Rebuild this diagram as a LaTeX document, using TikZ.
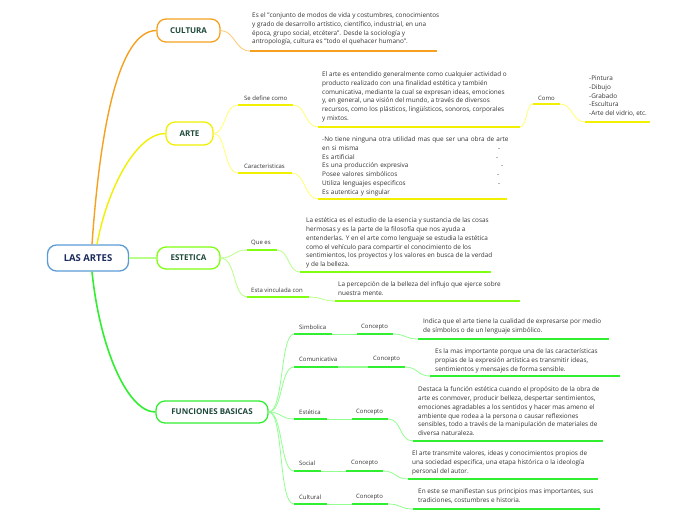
\documentclass[tikz,border=0pt]{standalone}
\usepackage{fontspec}
\setmainfont{Open Sans}
\definecolor{orC}{HTML}{F5A11F}
\definecolor{orL}{HTML}{FFC870}
\definecolor{yeC}{HTML}{F0F000}
\definecolor{yeL}{HTML}{FFFF70}
\definecolor{esC}{HTML}{80FF10}
\definecolor{esL}{HTML}{B8FF88}
\definecolor{fuC}{HTML}{30EE30}
\definecolor{fuL}{HTML}{90FF90}
\definecolor{rootC}{HTML}{5B9BD5}
\definecolor{titC}{HTML}{1E4A38}
\definecolor{rootT}{HTML}{1A2B5C}
\definecolor{txtC}{HTML}{333333}
\newcommand{\dashat}[1]{\hfill\makebox[#1][l]{-}}
\begin{document}
\begin{tikzpicture}[x=1pt,y=-1pt,
  topic/.style={draw, line width=1.3pt, rounded corners=9pt, fill=white, inner sep=0pt,
    font=\fontsize{8}{9}\selectfont\bfseries, text=titC},
  txt/.style={anchor=north west, inner sep=0pt, align=left,
    font=\fontsize{6.4}{8.8}\selectfont, text=txtC},
  lbl/.style={anchor=west, inner sep=0pt, font=\fontsize{6}{8}\selectfont, text=txtC},
  ul/.style={line width=1.6pt},
  cn/.style={line width=0.8pt}]
\useasboundingbox (0,0) rectangle (696,520);

% ---------- main nodes ----------
\node[topic, draw=rootC, text=rootT, minimum width=81pt, minimum height=26pt,
  font=\fontsize{9.5}{10}\selectfont\bfseries] (root) at (88,258) {LAS ARTES};
\node[topic, draw=orC, minimum width=63pt, minimum height=23pt] (cultura) at (188.5,30.5) {CULTURA};
\node[topic, draw=yeC, minimum width=47pt, minimum height=23pt] (arte) at (189.5,133.5) {ARTE};
\node[topic, draw=esC, minimum width=63pt, minimum height=22pt] (estetica) at (188.5,258) {ESTETICA};
\node[topic, draw=fuC, minimum width=112pt, minimum height=22pt] (func) at (212,412) {FUNCIONES BASICAS};

% ---------- root connectors ----------
\draw[orC, line width=1.4pt] ([xshift=4pt]root.north) .. controls (100,130) and (118,31) .. (cultura.west);
\draw[yeC, line width=1.4pt] ([xshift=9pt]root.north) .. controls (108,185) and (138,133) .. (arte.west);
\draw[esL, line width=2.2pt] (root.east) -- (estetica.west);
\draw[fuC, line width=1.6pt] ([xshift=4pt]root.south) .. controls (100,350) and (128,412) .. (func.west);

% ---------- CULTURA ----------
\coordinate (cu1) at (250,51); \coordinate (cu2) at (437,51);
\node[txt] (cultxt) at (252,12.5) {Es el "conjunto de modos de vida y costumbres, conocimientos\\
y grado de desarrollo artístico, científico, industrial, en una\\
época, grupo social, etcétera". Desde la sociología y\\
antropología, cultura es "todo el quehacer humano".};
\draw[orL, cn] (cultura.east) .. controls (235,31) and (235,51) .. (cu1);
\draw[orC, ul] (cu1) -- (cu2);

% ---------- ARTE ----------
\node[lbl] (sedef) at (244,98) {Se define como};
\coordinate (sd1) at (238,105); \coordinate (sd2) at (293,105);
\draw[yeL, cn] (arte.east) .. controls (226,133) and (224,105) .. (sd1);
\draw[yeC, ul] (sd1) -- (sd2);
\node[txt] (artedef) at (322,71.5) {El arte es entendido generalmente como cualquier actividad o\\
producto realizado con una finalidad estética y también\\
comunicativa, mediante la cual se expresan ideas, emociones\\
y, en general, una visión del mundo, a través de diversos\\
recursos, como los plásticos, lingüísticos, sonoros, corporales\\
y mixtos.};
\coordinate (ad1) at (318,127); \coordinate (ad2) at (520,127);
\draw[yeL, cn] (sd2) .. controls (306,105) and (305,127) .. (ad1);
\draw[yeC, ul] (ad1) -- (ad2);

\node[lbl] (como) at (538,98) {Como};
\coordinate (co1) at (533,104); \coordinate (co2) at (560,104);
\draw[yeL, cn] (ad2) .. controls (527,127) and (526,104) .. (co1);
\draw[yeC, ul] (co1) -- (co2);
\node[txt] (comotxt) at (589,75.5) {-Pintura\\-Dibujo\\-Grabado\\-Escultura\\-Arte del vidrio, etc.};
\coordinate (cl1) at (585,122); \coordinate (cl2) at (650,122);
\draw[yeL, cn] (co2) .. controls (573,104) and (572,122) .. (cl1);
\draw[yeC, ul] (cl1) -- (cl2);

\node[lbl] (carac) at (244,166) {Caracteristicas};
\coordinate (ca1) at (238,173); \coordinate (ca2) at (292,173);
\draw[yeL, cn] (arte.east) .. controls (226,133) and (224,173) .. (ca1);
\draw[yeC, ul] (ca1) -- (ca2);
\node[txt, text width=200pt] (cartxt) at (322,136.5) {-No tiene ninguna otra utilidad mas que ser una obra de arte\\
en si misma\dashat{24pt}\\
Es artificial\dashat{26pt}\\
Es una producción expresiva\dashat{21pt}\\
Posee valores simbólicos\dashat{25pt}\\
Utiliza lenguajes especificos\dashat{24pt}\\
Es autentica y singular};
\coordinate (ct1) at (318,199); \coordinate (ct2) at (507,199);
\draw[yeL, cn] (ca2) .. controls (305,173) and (305,199) .. (ct1);
\draw[yeC, ul] (ct1) -- (ct2);

% ---------- ESTETICA ----------
\node[lbl] (quees) at (251,243) {Que es};
\coordinate (qe1) at (247,250); \coordinate (qe2) at (277,250);
\draw[esL, cn] (estetica.east) .. controls (234,258) and (233,250) .. (qe1);
\draw[esC, ul] (qe1) -- (qe2);
\node[txt] (quetxt) at (306,217.5) {La estética es el estudio de la esencia y sustancia de las cosas\\
hermosas y es la parte de la filosofía que nos ayuda a\\
entenderlas. Y en el arte como lenguaje se estudia la estética\\
como el vehículo para compartir el conocimiento de los\\
sentimientos, los proyectos y los valores en busca de la verdad\\
y de la belleza.};
\coordinate (qt1) at (300,272); \coordinate (qt2) at (491,272);
\draw[esL, cn] (qe2) .. controls (289,250) and (288,272) .. (qt1);
\draw[esC, ul] (qt1) -- (qt2);

\node[lbl] (vinc) at (251,290) {Esta vinculada con};
\coordinate (vi1) at (247,297); \coordinate (vi2) at (309,297);
\draw[esL, cn] (estetica.east) .. controls (236,258) and (233,297) .. (vi1);
\draw[esC, ul] (vi1) -- (vi2);
\node[txt] (vintxt) at (338,281.5) {La percepción de la belleza del influjo que ejerce sobre\\
nuestra mente.};
\coordinate (vt1) at (335,301); \coordinate (vt2) at (520,301);
\draw[esL, cn] (vi2) .. controls (322,297) and (322,301) .. (vt1);
\draw[esC, ul] (vt1) -- (vt2);

% ---------- FUNCIONES BASICAS ----------
% Simbolica
\node[lbl] (simb) at (299,327) {Simbolica};
\coordinate (s1) at (294,334); \coordinate (s2) at (332,334);
\node[lbl] (sc) at (361,327) {Concepto};
\coordinate (s3) at (357,334); \coordinate (s4) at (393,334);
\node[txt] (stxt) at (423,318.5) {Indica que el arte tiene la cualidad de expresarse por medio\\
de símbolos o de un lenguaje simbólico.};
\coordinate (s5) at (418,339); \coordinate (s6) at (609,339);
\draw[fuL, cn] (func.east) .. controls (284,412) and (280,334) .. (s1);
\draw[fuC, ul] (s1) -- (s2);
\draw[fuL, cn] (s2) -- (s3);
\draw[fuC, ul] (s3) -- (s4);
\draw[fuL, cn] (s4) .. controls (406,334) and (405,339) .. (s5);
\draw[fuC, ul] (s5) -- (s6);

% Comunicativa
\node[lbl] (com) at (299,359) {Comunicativa};
\coordinate (c1) at (294,367); \coordinate (c2) at (338,367);
\node[lbl] (cc) at (373,359) {Concepto};
\coordinate (c3) at (368,367); \coordinate (c4) at (405,367);
\node[txt] (ctxt) at (435,348.5) {Es la mas importante porque una de las características\\
propias de la expresión artística es transmitir ideas,\\
sentimientos y mensajes de forma sensible.};
\coordinate (c5) at (430,376); \coordinate (c6) at (620,376);
\draw[fuL, cn] (func.east) .. controls (283,412) and (280,367) .. (c1);
\draw[fuC, ul] (c1) -- (c2);
\draw[fuL, line width=1.6pt] (c2) -- (c3);
\draw[fuC, ul] (c3) -- (c4);
\draw[fuL, cn] (c4) .. controls (418,367) and (417,376) .. (c5);
\draw[fuC, ul] (c5) -- (c6);

% Estetica
\node[lbl] (est) at (299,412) {Estética};
\coordinate (e1) at (294,419); \coordinate (e2) at (327,419);
\node[lbl] (ec) at (356,412) {Concepto};
\coordinate (e3) at (352,419); \coordinate (e4) at (388,419);
\node[txt] (etxt) at (418,386.5) {Destaca la función estética cuando el propósito de la obra de\\
arte es conmover, producir belleza, despertar sentimientos,\\
emociones agradables a los sentidos y hacer mas ameno el\\
ambiente que rodea a la persona o causar reflexiones\\
sensibles, todo a través de la manipulación de materiales de\\
diversa naturaleza.};
\coordinate (e5) at (413,441); \coordinate (e6) at (603,441);
\draw[fuL, cn] (func.east) .. controls (281,412) and (281,419) .. (e1);
\draw[fuC, ul] (e1) -- (e2);
\draw[fuL, cn] (e2) -- (e3);
\draw[fuC, ul] (e3) -- (e4);
\draw[fuL, cn] (e4) .. controls (402,419) and (399,441) .. (e5);
\draw[fuC, ul] (e5) -- (e6);

% Social
\node[lbl] (soc) at (299,463) {Social};
\coordinate (o1) at (294,471); \coordinate (o2) at (321,471);
\node[lbl] (oc) at (351,463) {Concepto};
\coordinate (o3) at (346,471); \coordinate (o4) at (383,471);
\node[txt] (otxt) at (412,450.5) {El arte transmite valores, ideas y conocimientos propios de\\
una sociedad especifica, una etapa histórica o la ideología\\
personal del autor.};
\coordinate (o5) at (408,479); \coordinate (o6) at (598,479);
\draw[fuL, cn] (func.east) .. controls (283,412) and (280,471) .. (o1);
\draw[fuC, ul] (o1) -- (o2);
\draw[fuL, cn] (o2) -- (o3);
\draw[fuC, ul] (o3) -- (o4);
\draw[fuL, cn] (o4) .. controls (396,471) and (395,479) .. (o5);
\draw[fuC, ul] (o5) -- (o6);

% Cultural
\node[lbl] (cul) at (299,497) {Cultural};
\coordinate (u1) at (294,504); \coordinate (u2) at (327,504);
\node[lbl] (uc) at (356,497) {Concepto};
\coordinate (u3) at (352,504); \coordinate (u4) at (388,504);
\node[txt] (utxt) at (418,488.5) {En este se manifiestan sus principios mas importantes, sus\\
tradiciones, costumbres e historia.};
\coordinate (u5) at (413,509); \coordinate (u6) at (600,509);
\draw[fuL, cn] (func.east) .. controls (284,412) and (278,504) .. (u1);
\draw[fuC, ul] (u1) -- (u2);
\draw[fuL, cn] (u2) -- (u3);
\draw[fuC, ul] (u3) -- (u4);
\draw[fuL, cn] (u4) .. controls (401,504) and (400,509) .. (u5);
\draw[fuC, ul] (u5) -- (u6);
\end{tikzpicture}
\end{document}
